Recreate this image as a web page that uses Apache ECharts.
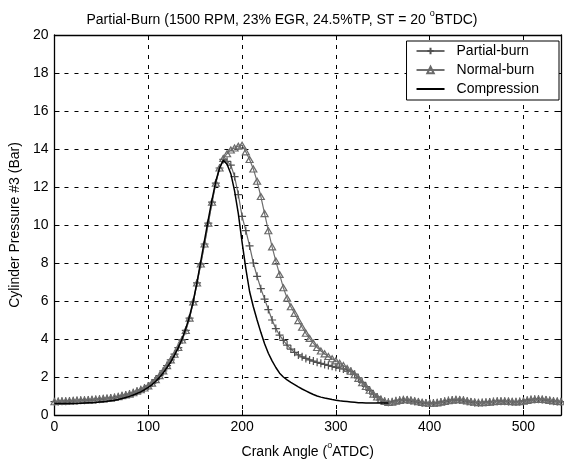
<!DOCTYPE html>
<html><head><meta charset="utf-8">
<script src="https://cdn.jsdelivr.net/npm/echarts@6/dist/echarts.min.js"></script>
<style>html,body{margin:0;padding:0;background:#fff}#c{width:564px;height:464px}</style>
</head><body><div id="c"></div>
<script>
// Crank angle samples (deg ATDC)
const angles = [0,4,8,12,16,20,24,28,32,36,40,44,48,52,56,60,64,68,72,76,80,84,88,92,96,100,104,108,112,116,120,124,128,132,136,140,144,148,152,156,160,164,168,172,176,180,184,188,192,196,200,204,208,212,216,220,224,228,232,236,240,244,248,252,256,260,264,268,272,276,280,284,288,292,296,300,304,308,312,316,320,324,328,332,336,340,344,348,352,356,360,364,368,372,376,380,384,388,392,396,400,404,408,412,416,420,424,428,432,436,440,444,448,452,456,460,464,468,472,476,480,484,488,492,496,500,504,508,512,516,520,524,528,532,536,540];

const partialBurn = [
0.7,0.71,0.72,0.73,0.74,0.75,0.76,0.77,0.78,0.79,0.8,0.82,
0.83,0.85,0.87,0.89,0.92,0.96,1.01,1.05,1.1,1.17,1.25,1.33,1.42,
1.53,1.68,1.86,2.07,2.32,2.6,2.9,3.2,3.55,3.95,4.45,
5.1,5.95,6.95,7.95,9.0,10.1,11.2,12.2,13.0,13.45,
13.35,13.15,12.55,11.6,10.45,9.7,8.9,8.0,7.3,6.65,
6.1,5.55,5.0,4.55,4.2,3.93,3.68,3.47,3.3,3.16,
3.06,2.98,2.9,2.84,2.77,2.72,2.66,2.61,2.56,2.51,
2.47,2.42,2.37,2.3,2.15,1.95,1.72,1.5,1.3,1.1,
0.95,0.82,0.72,0.67,0.7,0.75,0.78,0.8,0.79,0.76,
0.72,0.68,0.65,0.63,0.62,0.63,0.65,0.68,0.72,0.76,
0.79,0.8,0.79,0.77,0.73,0.69,0.66,0.65,0.66,0.67,
0.69,0.71,0.72,0.73,0.72,0.71,0.7,0.7,0.71,0.74,
0.78,0.81,0.83,0.83,0.81,0.79,0.76,0.73,0.71,0.7];

const normalBurn = [
0.7,0.71,0.72,0.73,0.74,0.75,0.76,0.77,0.78,0.79,0.8,0.82,
0.83,0.85,0.87,0.89,0.92,0.96,1.01,1.05,1.1,1.17,1.25,1.33,1.42,
1.53,1.68,1.86,2.07,2.32,2.6,2.9,3.2,3.55,3.95,4.45,
5.1,5.95,6.95,7.95,9.0,10.1,11.2,12.2,13.0,13.5,
13.75,13.95,14.05,14.15,14.2,13.85,13.45,12.95,12.3,11.5,
10.6,9.7,8.85,8.1,7.4,6.7,6.15,5.7,5.35,4.97,
4.62,4.3,4.03,3.78,3.55,3.37,3.22,3.08,2.96,2.85,
2.73,2.6,2.45,2.3,2.12,1.93,1.7,1.5,1.3,1.1,
0.95,0.82,0.72,0.66,0.68,0.73,0.77,0.8,0.8,0.78,
0.74,0.7,0.66,0.63,0.62,0.62,0.64,0.67,0.71,0.75,
0.78,0.8,0.8,0.78,0.74,0.7,0.67,0.65,0.65,0.66,
0.68,0.7,0.72,0.73,0.73,0.72,0.7,0.69,0.7,0.73,
0.77,0.8,0.82,0.83,0.82,0.8,0.77,0.74,0.72,0.7];

// Motored (compression only) trace, 0..356 deg
const compression = [
0.6,0.6,0.6,0.6,0.6,0.61,0.61,0.62,0.63,0.64,0.65,0.66,
0.68,0.7,0.72,0.75,0.78,0.82,0.87,0.92,0.98,1.05,1.13,1.22,1.33,
1.45,1.6,1.78,1.98,2.22,2.5,2.8,3.15,3.55,4.0,4.55,
5.2,6.0,7.0,8.1,9.2,10.3,11.35,12.3,13.0,13.4,
13.2,12.7,11.8,10.6,9.1,7.7,6.5,5.7,5.0,4.35,
3.75,3.25,2.85,2.5,2.2,2.0,1.85,1.72,1.6,1.48,
1.37,1.27,1.17,1.08,1.0,0.94,0.89,0.85,0.81,0.78,
0.75,0.73,0.71,0.69,0.67,0.65,0.64,0.63,0.63,0.63,
0.63,0.63,0.63,0.63];

const xTickValues = [0,100,200,300,400,500];
const yTickValues = [0,2,4,6,8,10,12,14,16,18,20];
const seriesNames = ['Partial-burn','Normal-burn','Compression'];

const FONT = 'Liberation Sans, Arial, sans-serif';
const pairs = (ys) => ys.map((v, i) => [angles[i], v]);

const chart = echarts.init(document.getElementById('c'), null, {renderer: 'canvas'});
const gridLine = {show: true, lineStyle: {color: '#000', type: [4, 6], width: 1}};
const axisBase = {
  type: 'value',
  axisLine: {show: true, onZero: false, lineStyle: {color: '#000', width: 1.3}},
  axisTick: {show: true, inside: true, length: 5, lineStyle: {color: '#000'}},
};
const richSup = {
  a: {fontFamily: FONT, fontSize: 14, fontWeight: 'normal', color: '#000', lineHeight: 18, verticalAlign: 'bottom'},
  s: {fontFamily: FONT, fontSize: 9, fontWeight: 'normal', color: '#000', lineHeight: 18, verticalAlign: 'top'}
};
chart.setOption({
  animation: false,
  backgroundColor: '#fff',
  title: {
    text: '{a|Partial-Burn (1500 RPM, 23% EGR, 24.5%TP, ST = 20 }{s|o}{a|BTDC)}',
    left: 'center', top: 4,
    textStyle: {fontWeight: 'normal', rich: richSup}
  },
  legend: {
    orient: 'vertical', right: 5, top: 41,
    backgroundColor: '#fff', borderColor: '#000', borderWidth: 1,
    padding: [2, 20, 3, 9], itemGap: 3, itemWidth: 28, itemHeight: 8,
    textStyle: {fontFamily: FONT, fontSize: 14, color: '#000', lineHeight: 16, padding: [0, 0, 0, 7]},
    data: [
      seriesNames[0],
      seriesNames[1],
      {name: seriesNames[2], itemStyle: {color: 'rgba(0,0,0,0)', borderColor: 'rgba(0,0,0,0)', borderWidth: 0}}
    ]
  },
  grid: {left: 51, right: 1, top: 35, bottom: 41, containLabel: false},
  xAxis: [
    Object.assign({}, axisBase, {
      min: 0, max: 540, interval: 100, position: 'bottom',
      splitLine: gridLine,
      axisLabel: {color: '#000', fontFamily: FONT, fontSize: 14, margin: 5,
        formatter: (v) => xTickValues.includes(v) ? String(v) : ''},
      name: '{a|Crank Angle (}{s|o}{a|ATDC)}',
      nameLocation: 'middle', nameGap: 26,
      nameTextStyle: {rich: richSup}
    }),
    Object.assign({}, axisBase, {
      min: 0, max: 540, interval: 100, position: 'top',
      splitLine: {show: false}, axisLabel: {show: false}
    })
  ],
  yAxis: [
    Object.assign({}, axisBase, {
      min: 0, max: 20, interval: 2, position: 'left',
      splitLine: gridLine,
      axisLabel: {color: '#000', fontFamily: FONT, fontSize: 14, margin: 6,
        formatter: (v) => yTickValues.includes(v) ? String(v) : ''},
      name: 'Cylinder Pressure #3 (Bar)',
      nameLocation: 'middle', nameGap: 23,
      nameTextStyle: {fontFamily: FONT, fontSize: 14, color: '#000'}
    }),
    Object.assign({}, axisBase, {
      min: 0, max: 20, interval: 2, position: 'right',
      splitLine: {show: false}, axisLabel: {show: false}
    })
  ],
  series: [
    {
      name: seriesNames[0], type: 'line', data: pairs(partialBurn),
      xAxisIndex: 0, yAxisIndex: 0,
      symbol: 'path://M0,5L10,5M5,0L5,10', symbolSize: 8,
      showAllSymbol: true,
      lineStyle: {color: '#6a6a6a', width: 1.2},
      itemStyle: {color: 'rgba(0,0,0,0)', borderColor: '#505050', borderWidth: 1.2},
      z: 2
    },
    {
      name: seriesNames[1], type: 'line', data: pairs(normalBurn),
      xAxisIndex: 0, yAxisIndex: 0,
      symbol: 'triangle', symbolSize: [7, 6],
      showAllSymbol: true,
      lineStyle: {color: '#707070', width: 1.2},
      itemStyle: {color: 'rgba(255,255,255,0)', borderColor: '#6a6a6a', borderWidth: 1.2},
      z: 3
    },
    {
      name: seriesNames[2], type: 'line', data: pairs(compression),
      xAxisIndex: 0, yAxisIndex: 0,
      showSymbol: false, symbol: 'none',
      lineStyle: {color: '#000', width: 1.5},
      itemStyle: {color: '#000'},
      z: 4
    }
  ]
});
</script>
</body></html>
